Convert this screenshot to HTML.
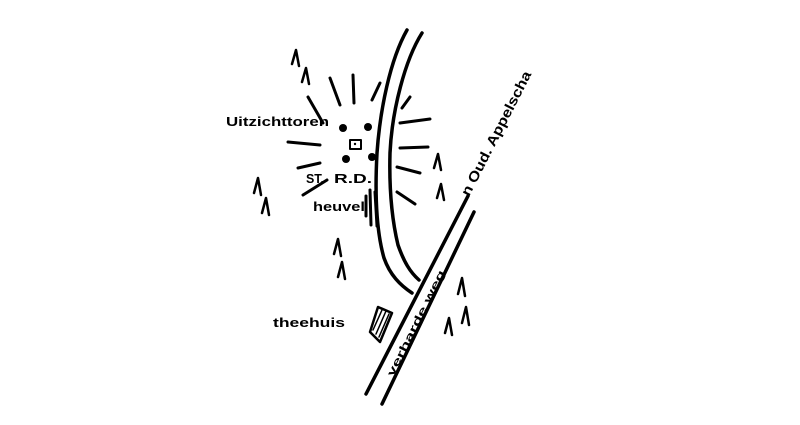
<!DOCTYPE html>
<html><head><meta charset="utf-8"><style>
html,body{margin:0;padding:0;background:#fff;}
svg{display:block;}
text{font-family:"Liberation Sans",sans-serif;font-weight:bold;fill:#000;}
</style></head><body>
<svg width="800" height="425" viewBox="0 0 800 425" xmlns="http://www.w3.org/2000/svg">
<g fill="none" stroke="#000" stroke-width="3.5" stroke-linecap="round" stroke-linejoin="round">
<path d="M468,196 L366,394"/>
<path d="M474,212 L382,404"/>
<path d="M407,30 C390,60 380,110 377,153 C375,190 376,230 384,258 C390,275 400,285 412,293"/>
<path d="M422,33 C405,60 392,110 390,153 C389,190 392,220 398,245 C404,262 410,272 419,280"/>
<g stroke-width="3">
<path d="M330,78 L340,105"/>
<path d="M353,75 L354,103"/>
<path d="M380,83 L372,100"/>
<path d="M410,97 L402,108"/>
<path d="M308,97 L323,123"/>
<path d="M400,123 L430,119"/>
<path d="M288,142 L320,145"/>
<path d="M400,148 L428,147"/>
<path d="M298,168 L320,163"/>
<path d="M397,167 L420,173"/>
<path d="M303,195 L327,180"/>
<path d="M397,192 L415,204"/>
<path d="M370,190 L371,225"/>
<path d="M375,192 L377,226"/>
<path d="M366,196 L366,216"/>
</g>
<g stroke-width="2.5">
<path d="M292,64 L296,50 L299,66"/>
<path d="M302,82 L306,68 L309,84"/>
<path d="M254,193 L258,178 L261,195"/>
<path d="M262,213 L266,198 L269,215"/>
<path d="M334,254 L338,239 L341,256"/>
<path d="M338,277 L342,262 L345,279"/>
<path d="M434,168 L438,154 L441,170"/>
<path d="M437,198 L441,184 L444,200"/>
<path d="M458,294 L462,278 L465,296"/>
<path d="M462,323 L466,307 L469,325"/>
<path d="M445,333 L449,318 L452,335"/>
</g>
<path d="M370,332 L378,307 L392,313 L380,342 Z" stroke-width="2.5"/>
<g stroke-width="1.5"><path d="M373,330 L382,310"/><path d="M376,334 L386,311"/><path d="M379,337 L389,314"/></g>
<rect x="350" y="140" width="11" height="9" stroke-width="2"/>
</g>
<g fill="#000">
<circle cx="343" cy="128" r="4"/><circle cx="368" cy="127" r="4"/>
<circle cx="346" cy="159" r="4"/><circle cx="372" cy="157" r="4"/>
<circle cx="355" cy="144" r="1.2"/>
</g>
<text x="226" y="126" font-size="13" textLength="103" lengthAdjust="spacingAndGlyphs">Uitzichttoren</text>
<text x="306" y="183" font-size="13" textLength="18" lengthAdjust="spacingAndGlyphs">ST.</text>
<text x="334" y="183" font-size="13" textLength="38" lengthAdjust="spacingAndGlyphs">R.D.</text>
<text x="313" y="211" font-size="13" textLength="52" lengthAdjust="spacingAndGlyphs">heuvel</text>
<text x="273" y="327" font-size="13" textLength="72" lengthAdjust="spacingAndGlyphs">theehuis</text>
<text transform="translate(469,197) rotate(-63)" font-size="14" textLength="138" lengthAdjust="spacingAndGlyphs">n Oud. Appelscha</text>
<text transform="translate(393,377) rotate(-63.5)" font-size="10.5" textLength="122" lengthAdjust="spacingAndGlyphs">verharde weg.</text>
</svg>
</body></html>
